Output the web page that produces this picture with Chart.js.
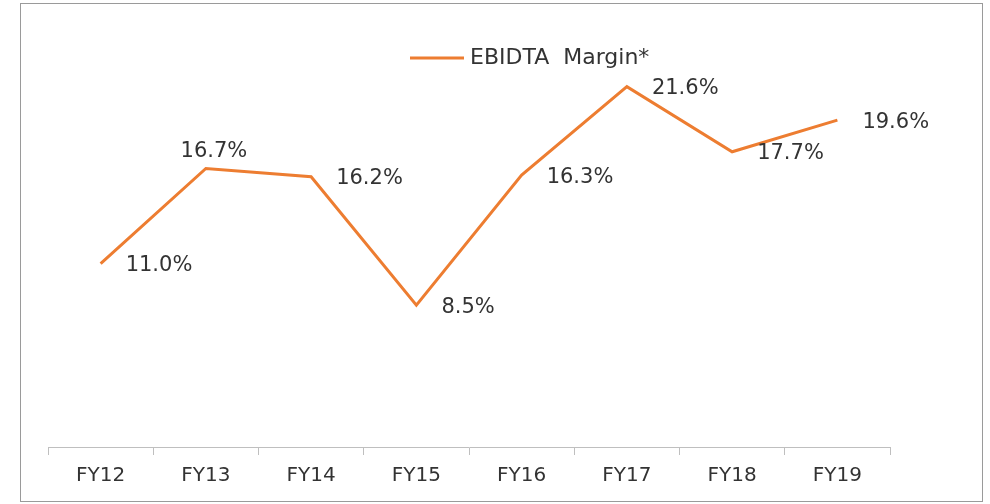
<!DOCTYPE html>
<html>
<head>
<meta charset="utf-8">
<script src="https://cdn.jsdelivr.net/npm/chart.js@4"></script>
<style>
  html, body { margin: 0; padding: 0; background: #fff; }
  #wrap { width: 990px; height: 504px; }
</style>
</head>
<body>
<div id="wrap"><canvas id="myChart" width="990" height="504"></canvas></div>
<script>
const years = ['FY12', 'FY13', 'FY14', 'FY15', 'FY16', 'FY17', 'FY18', 'FY19'];
const margin = [11.0, 16.7, 16.2, 8.5, 16.3, 21.6, 17.7, 19.6];
const seriesName = 'EBIDTA  Margin*';

const orange = '#ED7D31';
const textGrey = '#333333';
const font = 'DejaVu Sans';

// frame round the whole chart + legend + value labels
const extras = {
  id: 'extras',
  beforeDraw(chart) {
    const c = chart.ctx;
    c.save();
    c.fillStyle = '#fff';
    c.fillRect(0, 0, chart.width, chart.height);
    c.strokeStyle = '#9a9a9a';
    c.lineWidth = 1;
    c.strokeRect(20.5, 3.5, 962, 498);
    c.restore();
  },
  afterDatasetsDraw(chart) {
    const c = chart.ctx;
    c.save();
    c.font = '21px "' + font + '"';
    c.fillStyle = textGrey;
    c.textBaseline = 'middle';
    chart.getDatasetMeta(0).data.forEach((pt, i) => {
      const txt = margin[i].toFixed(1) + '%';
      if (i === 1) {
        c.textAlign = 'center';
        c.fillText(txt, pt.x + 8, pt.y - 17);
      } else {
        c.textAlign = 'left';
        c.fillText(txt, pt.x + 25, pt.y + 2);
      }
    });

    // legend
    c.strokeStyle = orange;
    c.lineWidth = 3;
    c.beginPath();
    c.moveTo(410, 58);
    c.lineTo(464, 58);
    c.stroke();
    c.textAlign = 'left';
    c.font = '22px "' + font + '"';
    c.fillText(seriesName, 470, 58);
    c.restore();
  }
};

const ctx = document.getElementById('myChart').getContext('2d');
const myChart = new Chart(ctx, {
  type: 'line',
  data: {
    labels: years,
    datasets: [{
      label: seriesName,
      data: margin,
      borderColor: orange,
      borderWidth: 3,
      pointRadius: 0,
      tension: 0,
      fill: false
    }]
  },
  options: {
    responsive: false,
    animation: false,
    layout: { padding: { left: 48, right: 100, top: 30, bottom: 0 } },
    plugins: {
      legend: { display: false },
      tooltip: { enabled: false }
    },
    scales: {
      x: {
        offset: true,
        grid: {
          offset: true,
          drawOnChartArea: false,
          color: '#BFBFBF',
          tickLength: 8
        },
        border: { color: '#BFBFBF', width: 1 },
        ticks: {
          color: textGrey,
          padding: 9,
          font: { family: font, size: 20 }
        },
        afterFit(scale) { scale.height = 57; }
      },
      y: {
        display: false,
        min: 0,
        max: 25
      }
    }
  },
  plugins: [extras]
});
</script>
</body>
</html>
